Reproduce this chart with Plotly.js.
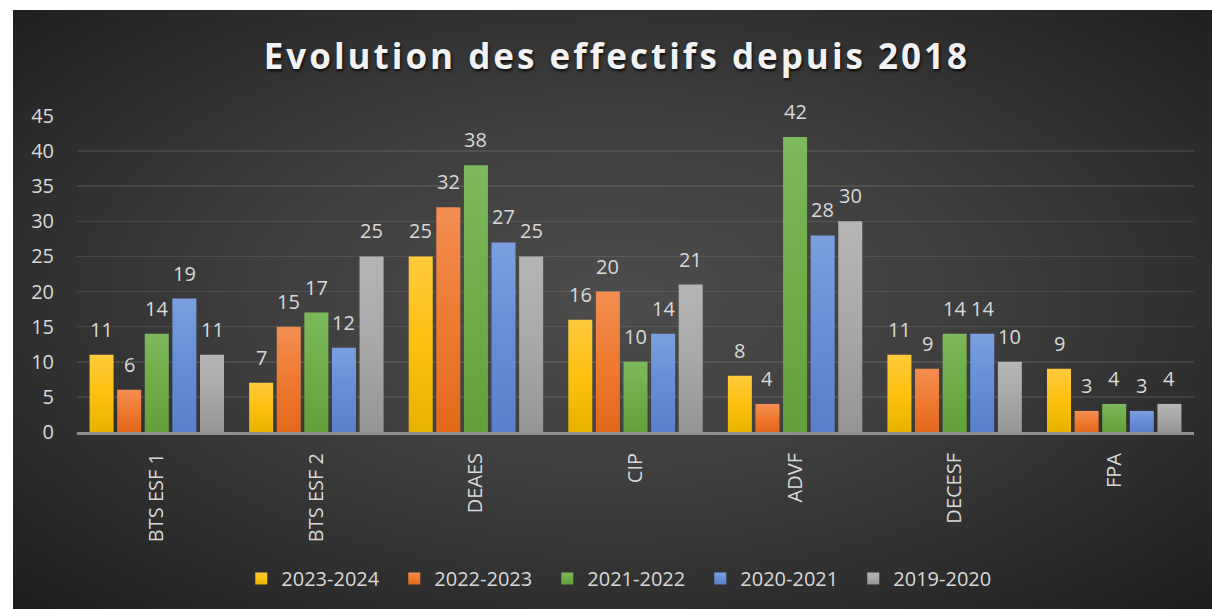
<!DOCTYPE html>
<html>
<head>
<meta charset="utf-8">
<script src="https://cdn.plot.ly/plotly-3.0.1.min.js"></script>
<style>
  html, body { margin: 0; padding: 0; background: #ffffff; width: 1212px; height: 609px; overflow: hidden; }
  #bg { position: absolute; left: 13px; top: 10px; width: 1199px; height: 599px;
        background: radial-gradient(ellipse farthest-corner at 50% 48%, #4c4c4c 0%, #3f3f3f 40%, #2c2c2c 75%, #1d1d1d 100%); }
  #chart { position: absolute; left: 0; top: 0; width: 1212px; height: 609px; }
  #chart .gtitle { letter-spacing: 3px; }
</style>
</head>
<body>
<div id="bg"></div>
<div id="chart"></div>
<script>
const categories = ["BTS ESF 1", "BTS ESF 2", "DEAES", "CIP", "ADVF", "DECESF", "FPA"];
const seriesNames = ["2023-2024", "2022-2023", "2021-2022", "2020-2021", "2019-2020"];
const v2023_2024 = [11, 7, 25, 16, 8, 11, 9];
const v2022_2023 = [6, 15, 32, 20, 4, 9, 3];
const v2021_2022 = [14, 17, 38, 10, 42, 14, 4];
const v2020_2021 = [19, 12, 27, 14, 28, 14, 3];
const v2019_2020 = [11, 25, 25, 21, 30, 10, 4];
const seriesValues = [v2023_2024, v2022_2023, v2021_2022, v2020_2021, v2019_2020];
const colors = ["#fdc010", "#ee7a30", "#6ead48", "#668dd5", "#a8a8a8"];
const gradTop = ["#ffca3c", "#f38e52", "#7bb95b", "#7a9fe0", "#b5b5b5"];
const gradBottom = ["#e8b200", "#e2691c", "#62a03a", "#5a80cb", "#959595"];
const yTicks = [0, 5, 10, 15, 20, 25, 30, 35, 40, 45];

const textColor = "#d9d9d9";
const baseFont = "'Open Sans', 'Noto Sans', sans-serif";
const bargap = 0.135;

const traces = seriesValues.map((vals, j) => ({
  type: "bar",
  name: seriesNames[j],
  x: categories,
  y: vals,
  marker: { color: colors[j], line: { width: 0 } },
  hoverinfo: "skip"
}));

// data labels above each bar, positioned via the category axis scale
const nS = seriesValues.length;
const slot = (1 - bargap) / nS;
const annotations = [];
seriesValues.forEach((vals, j) => {
  vals.forEach((v, i) => {
    annotations.push({
      x: i + (j - (nS - 1) / 2) * slot,
      y: v,
      xref: "x", yref: "y",
      text: String(v),
      showarrow: false,
      yanchor: "bottom",
      yshift: 10,
      font: { family: baseFont, size: 20, color: textColor }
    });
  });
});

const layout = {
  width: 1212,
  height: 609,
  paper_bgcolor: "rgba(0,0,0,0)",
  plot_bgcolor: "rgba(0,0,0,0)",
  margin: { l: 77, r: 18, t: 116, b: 177 },
  title: {
    text: "Evolution des effectifs depuis 2018",
    xref: "container", yref: "container",
    x: 0.509, y: 0.906, xanchor: "center", yanchor: "middle",
    font: { family: "'Open Sans', sans-serif", size: 35, weight: 700, color: "#f2f2f2",
            shadow: "1px 2px 3px rgba(0,0,0,0.8)" }
  },
  barmode: "group",
  bargap: bargap,
  bargroupgap: 0.13,
  xaxis: {
    type: "category",
    tickangle: -90,
    tickfont: { family: baseFont, size: 20, color: textColor },
    ticklabelstandoff: 10,
    showgrid: false,
    showline: true,
    linecolor: "#8e8e8e",
    linewidth: 3,
    ticks: "",
    fixedrange: true
  },
  yaxis: {
    range: [0, 45],
    tickvals: yTicks,
    ticktext: yTicks.map(String),
    tickfont: { family: baseFont, size: 20, color: textColor },
    ticklabelstandoff: 22,
    showgrid: true,
    gridcolor: "rgba(255,255,255,0.09)",
    gridwidth: 1.5,
    zeroline: false,
    showline: false,
    ticks: "",
    fixedrange: true
  },
  showlegend: true,
  legend: {
    orientation: "h",
    x: 0.4895, xanchor: "center",
    y: 0.05, yref: "container", yanchor: "middle",
    font: { family: baseFont, size: 20, color: textColor },
    itemwidth: 30,
    entrywidth: 108,
    traceorder: "normal",
    bgcolor: "rgba(0,0,0,0)"
  },
  annotations: annotations
};

Plotly.newPlot("chart", traces, layout, { displayModeBar: false, staticPlot: true }).then(gd => {
  // vertical gradient fill on bars and legend swatches
  const svg = gd.querySelector("svg.main-svg");
  const ns = "http://www.w3.org/2000/svg";
  let defs = svg.querySelector("defs");
  if (!defs) { defs = document.createElementNS(ns, "defs"); svg.insertBefore(defs, svg.firstChild); }
  colors.forEach((c, j) => {
    const lg = document.createElementNS(ns, "linearGradient");
    lg.setAttribute("id", "barGrad" + j);
    lg.setAttribute("x1", "0"); lg.setAttribute("y1", "0");
    lg.setAttribute("x2", "0"); lg.setAttribute("y2", "1");
    [[0, gradTop[j]], [0.5, colors[j]], [1, gradBottom[j]]].forEach(([o, col]) => {
      const st = document.createElementNS(ns, "stop");
      st.setAttribute("offset", String(o));
      st.setAttribute("stop-color", col);
      lg.appendChild(st);
    });
    defs.appendChild(lg);
  });
  gd.querySelectorAll(".barlayer .trace.bars").forEach((tr, j) => {
    tr.querySelectorAll("path").forEach(p => { p.style.fill = "url(#barGrad" + j + ")"; });
  });
  gd.querySelectorAll(".legend .traces").forEach((tr, j) => {
    tr.querySelectorAll(".legendpoints path").forEach(p => { p.style.fill = "url(#barGrad" + j + ")"; });
  });
});
</script>
</body>
</html>
